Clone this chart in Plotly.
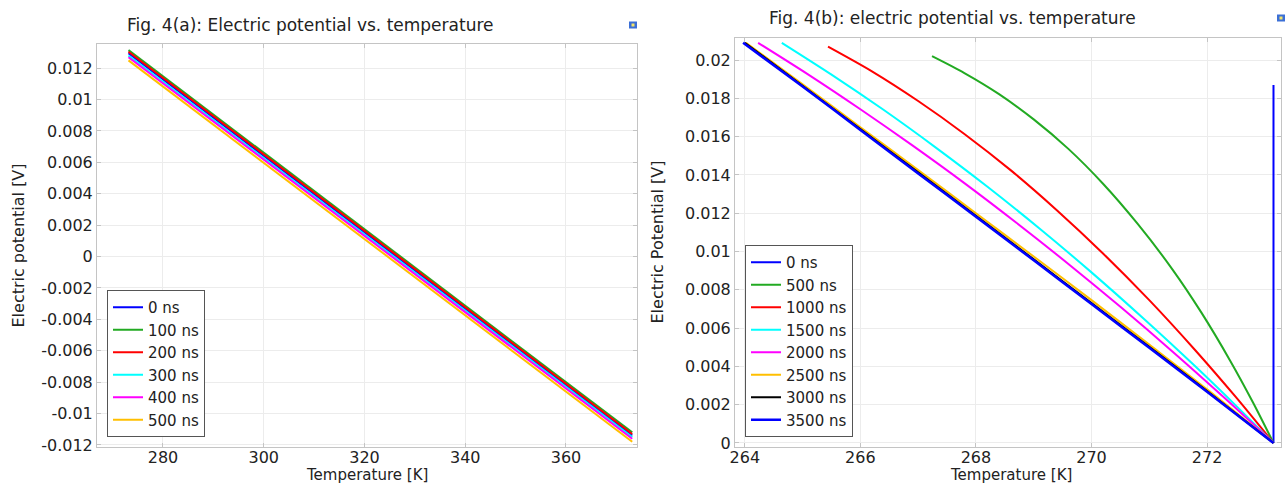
import plotly.graph_objects as go

# ---------------- data ----------------
# Panel (a)
a_names = ["0 ns", "100 ns", "200 ns", "300 ns", "400 ns", "500 ns"]
a_colors = ["#0000ff", "#22aa22", "#ff0000", "#00ffff", "#ff00ff", "#ffbf00"]
a_temps = [273.15, 373.15]
a_v0 = [0.01295, 0.01315, 0.01305, 0.0128, 0.0127, 0.0125]
a_v1 = [-0.0114, -0.0112, -0.0113, -0.0115, -0.0116, -0.0118]
a_xticks = [280, 300, 320, 340, 360]
a_yticks = [0.012, 0.01, 0.008, 0.006, 0.004, 0.002, 0, -0.002, -0.004, -0.006, -0.008, -0.01, -0.012]
a_yticktext = ["0.012", "0.01", "0.008", "0.006", "0.004", "0.002", "0", "-0.002", "-0.004", "-0.006", "-0.008", "-0.01", "-0.012"]

# Panel (b)
b_names = ["0 ns", "500 ns", "1000 ns", "1500 ns", "2000 ns", "2500 ns", "3000 ns", "3500 ns"]
b_colors = ["#0000ff", "#22aa22", "#ff0000", "#00ffff", "#ff00ff", "#ffbf00", "#000000", "#0000ff"]
b_T_0 = [273.15, 273.15]
b_V_0 = [0.0, 0.0187]
b_T_500 = [267.24, 267.8, 268.4, 269.0, 269.6, 270.2, 270.8, 271.4, 271.9, 272.4, 272.8, 273.15]
b_V_500 = [0.0202, 0.01932, 0.01822, 0.0169, 0.01536, 0.01354, 0.01144, 0.00907, 0.00682, 0.0043, 0.00209, 0.0]
b_T_1000 = [265.44, 266.2, 267.0, 267.8, 268.6, 269.4, 270.2, 271.0, 271.8, 272.5, 273.15]
b_V_1000 = [0.0207, 0.01941, 0.01786, 0.01614, 0.01425, 0.01216, 0.0099, 0.00746, 0.00483, 0.00239, 0.0]
b_T_1500 = [264.64, 265.5, 266.4, 267.3, 268.2, 269.1, 270.0, 270.9, 271.8, 272.5, 273.15]
b_V_1500 = [0.0209, 0.01924, 0.0174, 0.01544, 0.01338, 0.0112, 0.00891, 0.0065, 0.00399, 0.00195, 0.0]
b_T_2000 = [264.23, 265.1, 266.0, 266.9, 267.8, 268.7, 269.6, 270.5, 271.4, 272.3, 273.15]
b_V_2000 = [0.0209, 0.01924, 0.01743, 0.01554, 0.01357, 0.0115, 0.00935, 0.00711, 0.00478, 0.00236, 0.0]
b_T_2500 = [264.02, 265.0, 266.0, 267.0, 268.0, 269.0, 270.0, 271.0, 272.0, 273.15]
b_V_2500 = [0.0209, 0.01873, 0.01649, 0.01425, 0.01200, 0.00974, 0.00746, 0.00514, 0.00280, 0.0]
b_T_3000 = [264.0, 265.0, 266.0, 267.0, 268.0, 269.0, 270.0, 271.0, 272.0, 273.15]
b_V_3000 = [0.0209, 0.01865, 0.01639, 0.01413, 0.01186, 0.00959, 0.00731, 0.00502, 0.00271, 0.0]
b_T_3500 = [263.97, 265.0, 266.0, 267.0, 268.0, 269.0, 270.0, 271.0, 272.0, 273.15]
b_V_3500 = [0.0209, 0.01862, 0.01635, 0.01408, 0.01181, 0.00954, 0.00726, 0.00497, 0.00267, 0.0]
b_T = [b_T_0, b_T_500, b_T_1000, b_T_1500, b_T_2000, b_T_2500, b_T_3000, b_T_3500]
b_V = [b_V_0, b_V_500, b_V_1000, b_V_1500, b_V_2000, b_V_2500, b_V_3000, b_V_3500]
b_xticks = [264, 266, 268, 270, 272]
b_yticks = [0.02, 0.018, 0.016, 0.014, 0.012, 0.01, 0.008, 0.006, 0.004, 0.002, 0]
b_yticktext = ["0.02", "0.018", "0.016", "0.014", "0.012", "0.01", "0.008", "0.006", "0.004", "0.002", "0"]

title_a = "Fig. 4(a): Electric potential vs. temperature"
title_b = "Fig. 4(b): electric potential vs. temperature"
xlabel = "Temperature [K]"
ylabel_a = "Electric potential [V]"
ylabel_b = "Electric Potential [V]"

# ---------------- figure ----------------
W, H = 1286, 485
FONT = "DejaVu Sans"
TXT = "#222222"

def px(x):
    return x / W

def py(y):
    return 1 - y / H

fig = go.Figure()

for name, col, v0, v1 in zip(a_names, a_colors, a_v0, a_v1):
    fig.add_trace(go.Scatter(x=a_temps, y=[v0, v1], mode="lines", name=name,
                             line=dict(color=col, width=2),
                             xaxis="x", yaxis="y", legend="legend"))

for name, col, T, V in zip(b_names, b_colors, b_T, b_V):
    w = 2.5 if name == "3500 ns" else 2
    fig.add_trace(go.Scatter(x=T, y=V, mode="lines", name=name,
                             line=dict(color=col, width=w, shape="spline", smoothing=0.8),
                             xaxis="x2", yaxis="y2", legend="legend2", cliponaxis=False))

axis_common = dict(showline=True, linecolor="#c4c4c4", linewidth=1, mirror="ticks",
                   ticks="inside", ticklen=4, tickcolor="#c4c4c4",
                   showgrid=True, gridcolor="#ececec", gridwidth=1, zeroline=False,
                   automargin=False,
                   tickfont=dict(family=FONT, size=16, color=TXT))

A_L, A_R, A_T, A_B = 97, 637, 44, 447
B_L, B_R, B_T, B_B = 735, 1281, 38, 447

fig.update_layout(
    width=W, height=H,
    margin=dict(l=0, r=0, t=0, b=0, autoexpand=False),
    paper_bgcolor="white", plot_bgcolor="white",
    font=dict(family=FONT, size=16, color=TXT),
    xaxis=dict(domain=[px(A_L), px(A_R)], range=[266.9, 374.1], anchor="y",
               tickvals=a_xticks, ticklabelstandoff=-4, **axis_common),
    yaxis=dict(domain=[py(A_B), py(A_T)], range=[-0.01213, 0.01354], anchor="x",
               tickvals=a_yticks, ticktext=a_yticktext, ticklabelstandoff=0, **axis_common),
    xaxis2=dict(domain=[px(B_L), px(B_R)], range=[263.83, 273.28], anchor="y2",
                tickvals=b_xticks, ticklabelstandoff=-4, **axis_common),
    yaxis2=dict(domain=[py(B_B), py(B_T)], range=[-0.00021, 0.02115], anchor="x2",
                tickvals=b_yticks, ticktext=b_yticktext, ticklabelstandoff=0, **axis_common),
    legend=dict(x=px(107), y=py(437), xanchor="left", yanchor="bottom",
                bgcolor="white", bordercolor="#555555", borderwidth=1,
                font=dict(family=FONT, size=15, color=TXT), tracegroupgap=0),
    legend2=dict(x=px(745), y=py(437), xanchor="left", yanchor="bottom",
                 bgcolor="white", bordercolor="#555555", borderwidth=1,
                 font=dict(family=FONT, size=15, color=TXT), tracegroupgap=0),
    showlegend=True,
)

def label(text, x, y, angle=0, size=16):
    return dict(text=text, x=px(x), y=py(y), xref="paper", yref="paper",
                xanchor="center", yanchor="middle", showarrow=False,
                textangle=angle, font=dict(size=size))

ann = [
    label(title_a, 310, 25, size=17),
    label(title_b, 952, 18, size=17),
    label(xlabel, (A_L + A_R) / 2, 475, size=15),
    label(xlabel, 1011, 475, size=15),
    label(ylabel_a, 18, (A_T + A_B) / 2, -90),
    label(ylabel_b, 657, (B_T + B_B) / 2, -90),
]
fig.update_layout(annotations=ann)

# small window icons in the panel corners
shapes = []
for cx, cy in [(633, 25), (1281, 18)]:
    shapes.append(dict(type="rect", xref="paper", yref="paper",
                       x0=px(cx - 4), x1=px(cx + 4), y0=py(cy + 3.5), y1=py(cy - 3.5),
                       fillcolor="#3b6fd6", line=dict(width=0)))
    shapes.append(dict(type="rect", xref="paper", yref="paper",
                       x0=px(cx - 1.5), x1=px(cx + 1.5), y0=py(cy + 1.5), y1=py(cy - 1.5),
                       fillcolor="#f2e36b", line=dict(width=0)))
fig.update_layout(shapes=shapes)

fig.write_html("out.html",
               config={"displayModeBar": False},
               post_script="document.body.style.margin='0';document.body.style.padding='0';")
